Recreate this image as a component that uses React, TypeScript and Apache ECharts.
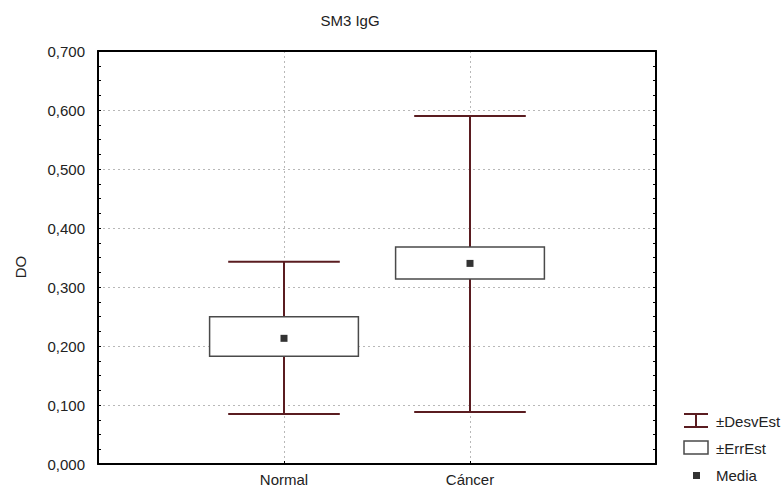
import React, { useEffect, useRef } from "react";
import * as echarts from "echarts";

const title = "SM3 IgG";
const yName = "DO";
const categories = ["Normal", "Cáncer"];
const means = [0.213, 0.340];
const seLow = [0.1825, 0.3136];
const seHigh = [0.2497, 0.368];
const sdLow = [0.0847, 0.088];
const sdHigh = [0.343, 0.590];
const legendLabels = ["±DesvEst", "±ErrEst", "Media"];

const whiskerColor = "#5a1c20";
const boxStroke = "#4a4a4a";
const meanColor = "#333333";
const font = "'Liberation Sans', Arial, sans-serif";

export default function App() {
  const ref = useRef<HTMLDivElement>(null);
  useEffect(() => {
    if (!ref.current) return;
    const chart = echarts.init(ref.current, null, { renderer: "svg" });
    const data = categories.map((c, i) => [i + 1, sdLow[i], sdHigh[i], seLow[i], seHigh[i], means[i]]);
    const fmt = (v: number) => v.toFixed(3).replace(".", ",");
    const txt = (text: string, x: number, y: number, extra: any = {}) => ({
      type: "text",
      x,
      y,
      z: 100,
      ...extra,
      style: { text, fontSize: 15, fontFamily: font, fill: "#222", verticalAlign: "middle", ...(extra.style || {}) },
    });
    const option: any = {
      animation: false,
      backgroundColor: "#fff",
      textStyle: { fontFamily: font },
      grid: { left: 98, right: 128, top: 51, bottom: 24 },
      xAxis: [
        {
          type: "value",
          min: 0,
          max: 3,
          interval: 1,
          axisLine: { onZero: false, lineStyle: { color: "#000", width: 2 } },
          axisTick: { inside: true, length: 3, lineStyle: { color: "#000" } },
          axisLabel: {
            margin: 8,
            fontSize: 15,
            color: "#222",
            fontFamily: font,
            formatter: (v: number) => (v >= 1 && v <= categories.length && Number.isInteger(v) ? categories[v - 1] : ""),
          },
          splitLine: { show: true, lineStyle: { color: "#b8b8b8", type: [2, 3], width: 1 } },
        },
        {
          type: "value",
          position: "top",
          min: 0,
          max: 3,
          interval: 1,
          z: 10,
          axisLine: { show: true, onZero: false, lineStyle: { color: "#000", width: 2 } },
          axisTick: { show: false },
          axisLabel: { show: false },
          splitLine: { show: false },
        },
      ],
      yAxis: [
        {
          type: "value",
          min: 0,
          max: 0.7,
          interval: 0.1,
          axisLine: { show: true, onZero: false, lineStyle: { color: "#000", width: 2 } },
          axisTick: { show: true, inside: true, length: 3, lineStyle: { color: "#000" } },
          minorTick: { show: true, splitNumber: 4, length: 3, lineStyle: { color: "#000" } },
          axisLabel: { margin: 13, fontSize: 15, color: "#222", fontFamily: font, formatter: fmt },
          splitLine: { show: true, lineStyle: { color: "#b8b8b8", type: [2, 3], width: 1 } },
        },
        {
          type: "value",
          position: "right",
          min: 0,
          max: 0.7,
          interval: 0.1,
          z: 10,
          axisLine: { show: true, onZero: false, lineStyle: { color: "#000", width: 2 } },
          axisTick: { show: true, inside: true, length: 3, lineStyle: { color: "#000" } },
          minorTick: { show: true, splitNumber: 4, length: 3, lineStyle: { color: "#000" } },
          axisLabel: { show: false },
          splitLine: { show: false },
        },
      ],
      series: [
        {
          type: "custom",
          data,
          clip: false,
          renderItem: (params: any, api: any) => {
            const x = api.value(0);
            const lo = api.coord([x, api.value(1)]);
            const hi = api.coord([x, api.value(2)]);
            const bl = api.coord([x, api.value(3)]);
            const bh = api.coord([x, api.value(4)]);
            const m = api.coord([x, api.value(5)]);
            const unit = api.size([1, 0])[0];
            const bw = unit * 0.8;
            const cw = unit * 0.6;
            const ws = { stroke: whiskerColor, lineWidth: 2 };
            return {
              type: "group",
              children: [
                { type: "line", shape: { x1: lo[0], y1: lo[1], x2: hi[0], y2: hi[1] }, style: ws },
                { type: "line", shape: { x1: hi[0] - cw / 2, y1: hi[1], x2: hi[0] + cw / 2, y2: hi[1] }, style: ws },
                { type: "line", shape: { x1: lo[0] - cw / 2, y1: lo[1], x2: lo[0] + cw / 2, y2: lo[1] }, style: ws },
                {
                  type: "rect",
                  shape: { x: bh[0] - bw / 2, y: bh[1], width: bw, height: bl[1] - bh[1] },
                  style: { fill: "#fff", stroke: boxStroke, lineWidth: 1.5 },
                },
                { type: "rect", shape: { x: m[0] - 3.5, y: m[1] - 3.5, width: 7, height: 7 }, style: { fill: meanColor } },
              ],
            };
          },
        },
      ],
      graphic: [
        txt(title, 350, 20, { style: { align: "center" } }),
        txt(yName, 20, 267, { rotation: Math.PI / 2, style: { align: "center" } }),
        // legend: ±DesvEst
        { type: "line", shape: { x1: 684, y1: 414, x2: 708, y2: 414 }, style: { stroke: whiskerColor, lineWidth: 2 } },
        { type: "line", shape: { x1: 684, y1: 427, x2: 708, y2: 427 }, style: { stroke: whiskerColor, lineWidth: 2 } },
        { type: "line", shape: { x1: 696, y1: 414, x2: 696, y2: 427 }, style: { stroke: whiskerColor, lineWidth: 2 } },
        txt(legendLabels[0], 716, 421),
        // ±ErrEst
        { type: "rect", shape: { x: 684, y: 441, width: 24, height: 13 }, style: { fill: "#fff", stroke: boxStroke, lineWidth: 1.5 } },
        txt(legendLabels[1], 716, 448),
        // Media
        { type: "rect", shape: { x: 693, y: 472, width: 7, height: 7 }, style: { fill: meanColor } },
        txt(legendLabels[2], 716, 475),
      ],
    };
    chart.setOption(option);
    return () => chart.dispose();
  }, []);
  return <div ref={ref} style={{ position: "absolute", left: 0, top: 0, width: 784, height: 488 }} />;
}
